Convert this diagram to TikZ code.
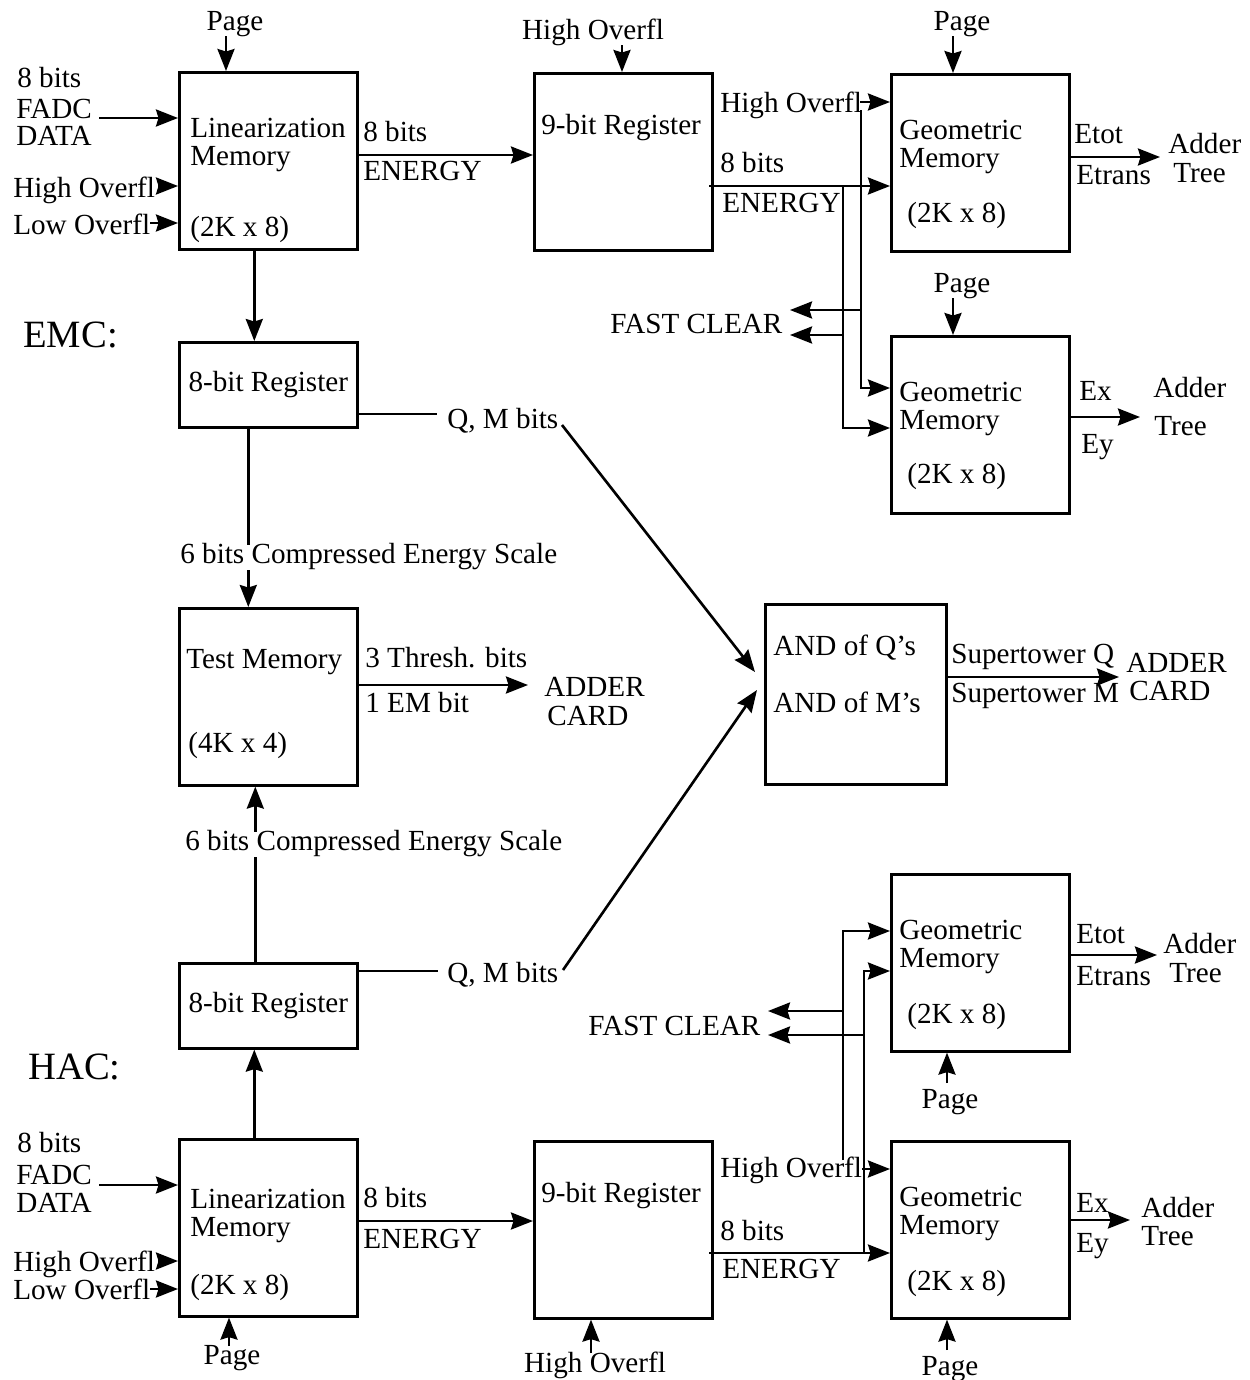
\documentclass[tikz,border=0pt]{standalone}
\usepackage{fontspec}
\setmainfont{Liberation Serif}
\usetikzlibrary{arrows.meta,positioning}

\begin{document}
\begin{tikzpicture}[x=0.02cm, y=-0.02cm, line width=1.5pt,
        >={Stealth[length=0.44cm, width=0.34cm, inset=0.05cm]},
        font=\fontsize{16.6}{19}\selectfont,
        mem/.style={draw, rectangle, inner sep=0pt, anchor=north west, minimum width=3.56cm, minimum height=3.54cm},
        reg/.style={draw, rectangle, inner sep=0pt, anchor=north west, minimum width=3.56cm, minimum height=1.7cm},
        lbl/.style={inner sep=0pt, anchor=west, text height=0.86em, text depth=0.2em, yshift=-0.09cm},
        ctr/.style={inner sep=0pt, text height=0.86em, text depth=0.2em, yshift=-0.09cm},
        big/.style={lbl, font=\fontsize{22}{26}\selectfont, yshift=-0.05cm}]
    \useasboundingbox (0,0) rectangle (1250,1380);

    % ---------------- EMC ----------------
    \node[mem] (linE) at (178,71) {};
    \node[mem] (nineE) at (533,72) {};
    \node[mem] (geoA) at (890,73) {};
    \node[mem] (geoB) at (890,335) {};
    \node[reg] (bitE) at (178,341) {8-bit Register};
    \node[mem] (test) at (178,607) {};
    \node[mem, minimum width=3.62cm, minimum height=3.6cm] (andQM) at (764,603) {};

    \node[lbl] (linEa) at (189,127) {Linearization};
    \node[lbl] (linEb) at (189,155) {Memory};
    \node[lbl] (linEc) at (189,226) {(2K x 8)};
    \node[lbl] (nineEt) at (540,124) {9-bit Register};
    \node[lbl] (geoAa) at (898,129) {Geometric};
    \node[lbl] (geoAb) at (898,157) {Memory};
    \node[lbl] (geoAc) at (906,212) {(2K x 8)};
    \node[lbl] (geoBa) at (898,391) {Geometric};
    \node[lbl] (geoBb) at (898,419) {Memory};
    \node[lbl] (geoBc) at (906,473) {(2K x 8)};
    \node[lbl] (testa) at (185,658) {Test Memory};
    \node[lbl] (testb) at (187,742) {(4K x 4)};
    \node[lbl] (anda) at (772,645) {AND of Q's};
    \node[lbl] (andb) at (772,702) {AND of M's};

    \node[big] (emc) at (22,335) {EMC:};

    % inputs of the linearization memory
    \node[lbl] (inEa) at (16,77) {8 bits};
    \node[lbl] (inEb) at (15,108) {FADC};
    \node[lbl] (inEc) at (15,135) {DATA};
    \node[lbl] (hiE) at (12,187) {High Overfl};
    \node[lbl] (loE) at (12,224) {Low Overfl};
    \coordinate (fadcE) at (99,118);
    \coordinate (hiEs) at (158,186);
    \coordinate (loEs) at (150,223);
    \draw[->] (fadcE) -- (linE.west |- fadcE);
    \draw[->] (hiEs) -- (linE.west |- hiEs);
    \draw[->] (loEs) -- (linE.west |- loEs);

    \node[ctr] (pageA) at (235,20) {Page};
    \coordinate (pageAs) at (226,36);
    \draw[->] (pageAs) -- (linE.north -| pageAs);

    % energy to the 9-bit register
    \coordinate (enE) at (356,155);
    \draw[->] (enE) -- (nineE.west |- enE);
    \node[lbl] (enEa) at (362,131) {8 bits};
    \node[lbl] (enEb) at (362,170) {ENERGY};

    \node[ctr] (ovE) at (593,29) {High Overfl};
    \coordinate (ovEs) at (622,45);
    \draw[->] (ovEs) -- (nineE.north -| ovEs);

    % 9-bit register to the geometric memories
    \node[lbl] (hoE) at (719,102) {High Overfl};
    \coordinate (hoEs) at (860,102);
    \draw[->] (hoEs) -- (geoA.west |- hoEs);
    \node[lbl] (eoEa) at (719,162) {8 bits};
    \node[lbl] (eoEb) at (721,202) {ENERGY};
    \coordinate (eoE) at (709,186);
    \draw[->] (eoE) -- (geoA.west |- eoE);
    \coordinate (hvE) at (861,110);
    \coordinate (evE) at (843,186);
    \coordinate (hgB) at (861,388);
    \coordinate (egB) at (843,428);
    \draw[->] (hvE) -- (hgB) -- (geoB.west |- hgB);
    \draw[->] (evE) -- (egB) -- (geoB.west |- egB);
    \node[lbl] (fcE) at (609,323) {FAST CLEAR};
    \draw[->] (hvE |- 0,310) -- (790,310);
    \draw[->] (evE |- 0,335) -- (790,335);

    \node[ctr] (pageB) at (962,20) {Page};
    \coordinate (pageBs) at (953,36);
    \draw[->] (pageBs) -- (geoA.north -| pageBs);
    \node[ctr] (pageC) at (962,282) {Page};
    \coordinate (pageCs) at (953,298);
    \draw[->] (pageCs) -- (geoB.north -| pageCs);

    % outputs of the geometric memories
    \coordinate (outA) at (1160,157);
    \draw[->] (geoA.east |- outA) -- (outA);
    \node[lbl] (etotA) at (1073,133) {Etot};
    \node[lbl] (etrA) at (1075,174) {Etrans};
    \node[lbl] (addA) at (1167,143) {Adder};
    \node[lbl] (treeA) at (1172,172) {Tree};
    \coordinate (outB) at (1140,417);
    \draw[->] (geoB.east |- outB) -- (outB);
    \node[lbl] (exB) at (1078,390) {Ex};
    \node[lbl] (eyB) at (1080,443) {Ey};
    \node[lbl] (addB) at (1152,387) {Adder};
    \node[lbl] (treeB) at (1153,425) {Tree};

    % linearization to 8-bit register to test memory
    \draw[->] ([xshift=-0.28cm]linE.south) -- ([xshift=-0.28cm]bitE.north);
    \draw[->] ([xshift=-0.4cm]bitE.south) -- ([xshift=-0.4cm]test.north);
    \node[lbl, fill=white, inner ysep=2pt] (cesE) at (179,553) {6 bits Compressed Energy Scale};

    \node[lbl] (qmE) at (446,418) {Q, M bits};
    \draw (bitE.east |- 0,414) -- (437,414);
    \coordinate (qmEs) at (562,425);
    \draw[->] (qmEs) -- (755,672);

    \coordinate (thr) at (528,685);
    \draw[->] (test.east |- thr) -- (thr);
    \node[lbl] (thra) at (364,657) {3 Thresh. bits};
    \node[lbl] (thrb) at (364,702) {1 EM bit};
    \node[lbl] (addT) at (543,686) {ADDER};
    \node[lbl] (cardT) at (546,715) {CARD};

    \coordinate (sup) at (1119,677);
    \draw[->] (andQM.east |- sup) -- (sup);
    \node[lbl] (supQ) at (950,653) {Supertower Q};
    \node[lbl] (supM) at (950,692) {Supertower M};
    \node[lbl] (addS) at (1125,662) {ADDER};
    \node[lbl] (cardS) at (1128,690) {CARD};

    % ---------------- HAC ----------------
    \node[mem] (geoC) at (890,873) {};
    \node[reg] (bitH) at (178,962) {8-bit Register};
    \node[mem] (linH) at (178,1138) {};
    \node[mem] (nineH) at (533,1140) {};
    \node[mem] (geoD) at (890,1140) {};

    \node[lbl] (geoCa) at (898,929) {Geometric};
    \node[lbl] (geoCb) at (898,957) {Memory};
    \node[lbl] (geoCc) at (906,1013) {(2K x 8)};
    \node[lbl] (linHa) at (189,1198) {Linearization};
    \node[lbl] (linHb) at (189,1226) {Memory};
    \node[lbl] (linHc) at (189,1284) {(2K x 8)};
    \node[lbl] (nineHt) at (540,1192) {9-bit Register};
    \node[lbl] (geoDa) at (898,1196) {Geometric};
    \node[lbl] (geoDb) at (898,1224) {Memory};
    \node[lbl] (geoDc) at (906,1280) {(2K x 8)};

    \node[big] (hac) at (27,1067) {HAC:};

    \draw[->] ([xshift=-0.26cm]bitH.north) -- ([xshift=-0.26cm]test.south);
    \node[lbl, fill=white, inner ysep=2pt] (cesH) at (184,840) {6 bits Compressed Energy Scale};
    \draw[->] ([xshift=-0.28cm]linH.north) -- ([xshift=-0.28cm]bitH.south);

    \node[lbl] (qmH) at (446,972) {Q, M bits};
    \draw (bitH.east |- 0,971) -- (438,971);
    \coordinate (qmHs) at (563,970);
    \draw[->] (qmHs) -- (757,690);

    % inputs of the linearization memory
    \node[lbl] (inHa) at (16,1142) {8 bits};
    \node[lbl] (inHb) at (15,1174) {FADC};
    \node[lbl] (inHc) at (15,1202) {DATA};
    \node[lbl] (hiH) at (12,1261) {High Overfl};
    \node[lbl] (loH) at (12,1289) {Low Overfl};
    \coordinate (fadcH) at (99,1185);
    \coordinate (hiHs) at (158,1261);
    \coordinate (loHs) at (150,1289);
    \draw[->] (fadcH) -- (linH.west |- fadcH);
    \draw[->] (hiHs) -- (linH.west |- hiHs);
    \draw[->] (loHs) -- (linH.west |- loHs);

    \node[ctr] (pageD) at (232,1354) {Page};
    \coordinate (pageDs) at (229,1346);
    \draw[->] (pageDs) -- (linH.south -| pageDs);

    \coordinate (enH) at (356,1221);
    \draw[->] (enH) -- (nineH.west |- enH);
    \node[lbl] (enHa) at (362,1197) {8 bits};
    \node[lbl] (enHb) at (362,1238) {ENERGY};

    \node[ctr] (ovH) at (595,1362) {High Overfl};
    \coordinate (ovHs) at (591,1353);
    \draw[->] (ovHs) -- (nineH.south -| ovHs);

    % 9-bit register to the geometric memories
    \node[lbl] (hoH) at (719,1167) {High Overfl};
    \coordinate (hoHs) at (862,1169);
    \draw[->] (hoHs) -- (geoD.west |- hoHs);
    \node[lbl] (eoHa) at (719,1230) {8 bits};
    \node[lbl] (eoHb) at (721,1268) {ENERGY};
    \coordinate (eoH) at (709,1253);
    \draw[->] (eoH) -- (geoD.west |- eoH);
    \coordinate (hvH) at (843,1160);
    \coordinate (evH) at (864,1253);
    \coordinate (hgC) at (843,931);
    \coordinate (egC) at (864,971);
    \draw[->] (hvH) -- (hgC) -- (geoC.west |- hgC);
    \draw[->] (evH) -- (egC) -- (geoC.west |- egC);
    \node[lbl] (fcH) at (587,1025) {FAST CLEAR};
    \draw[->] (hvH |- 0,1011) -- (768,1011);
    \draw[->] (evH |- 0,1035) -- (768,1035);

    \node[ctr] (pageE) at (950,1098) {Page};
    \coordinate (pageEs) at (947,1083);
    \draw[->] (pageEs) -- (geoC.south -| pageEs);
    \node[ctr] (pageF) at (950,1365) {Page};
    \coordinate (pageFs) at (947,1350);
    \draw[->] (pageFs) -- (geoD.south -| pageFs);

    % outputs of the geometric memories
    \coordinate (outC) at (1157,955);
    \draw[->] (geoC.east |- outC) -- (outC);
    \node[lbl] (etotC) at (1075,933) {Etot};
    \node[lbl] (etrC) at (1075,975) {Etrans};
    \node[lbl] (addC) at (1162,943) {Adder};
    \node[lbl] (treeC) at (1168,972) {Tree};
    \coordinate (outD) at (1130,1220);
    \draw[->] (geoD.east |- outD) -- (outD);
    \node[lbl] (exD) at (1075,1202) {Ex};
    \node[lbl] (eyD) at (1075,1242) {Ey};
    \node[lbl] (addD) at (1140,1207) {Adder};
    \node[lbl] (treeD) at (1140,1235) {Tree};
\end{tikzpicture}
\end{document}
